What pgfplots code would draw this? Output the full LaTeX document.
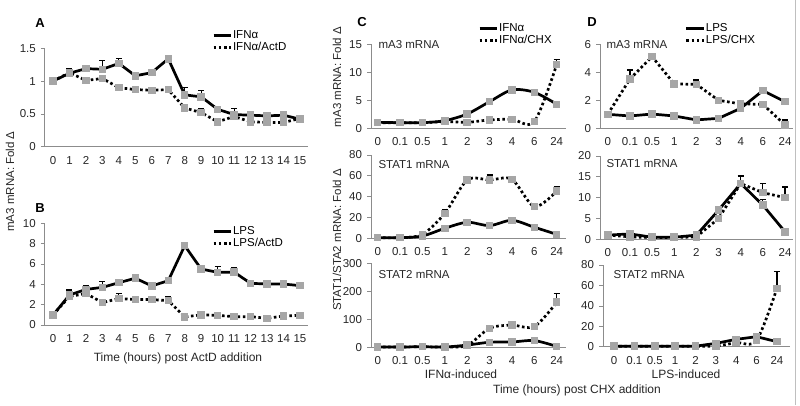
\documentclass[border=0pt]{standalone}
\usepackage{pgfplots}
\pgfplotsset{compat=1.18}
\usepackage{fontspec}
\setmainfont{Liberation Sans}
\newcommand\fs{\fontsize{11.5}{12}\selectfont}
\newcommand\fl{\fontsize{12}{13}\selectfont}

\pgfplotsset{
  fig/.style={
    scale only axis, anchor=south west, clip=false,
    axis x line*=bottom, axis y line*=left,
    axis line style={black!45, line width=0.7pt},
    tick style={black!45, line width=0.7pt},
    tick align=outside, major tick length=4pt, minor tick length=4pt,
    xtick style={draw=none},
    minor x tick style={black!45, line width=0.7pt},
    ticklabel style={font=\fs, text=black!85},
    /pgf/number format/assume math mode=true,
    yticklabel style={xshift=-1.5pt},
    xticklabel style={yshift=-2pt},
    ymin=0,
    legend style={draw=none, fill=none, inner sep=0pt, font=\fs, anchor=west,
      nodes={inner sep=1pt, text height=8pt, text depth=2pt}},
    legend cell align=left,
  },
  cat/.style={xtick={0,...,8}, xticklabels={0,0.1,0.5,1,2,3,4,6,24},
    minor xtick={0.5,1.5,...,7.5}},
  sol/.style={black, line width=2.7pt, mark=square*, mark size=2.4pt,
    mark options={fill=black!35, draw=black!35, solid}},
  dot/.style={black, line width=2.7pt, dash pattern=on 2.6pt off 2.6pt,
    mark=square*, mark size=2.4pt, mark options={fill=black!35, draw=black!35, solid}},
  eb/.style={/pgfplots/error bars/y dir=plus, /pgfplots/error bars/y explicit,
    /pgfplots/error bars/error mark options={rotate=90, black, line width=1.4pt, mark size=3pt, solid},
    /pgfplots/error bars/error bar style={black, line width=1.2pt, solid}},
}

\begin{document}
\begin{tikzpicture}
\path[use as bounding box] (0pt,0pt) rectangle (800pt,405pt);

% ---------- A ----------
\begin{axis}[fig, at={(44.8pt,258.3pt)}, width=263.4pt, height=98.4pt,
  xmin=-0.5, xmax=15.5, ymax=1.5, xtick={0,...,15}, minor xtick={-0.5,0.5,...,15.5},
  ytick={0,0.5,1,1.5}, legend style={at={(axis description cs:0.635,1.069)}}]
\addlegendimage{black, line width=2.7pt}
\addlegendentry{IFNα}
\addlegendimage{black, line width=2.7pt, dash pattern=on 2.6pt off 2.6pt}
\addlegendentry{IFNα/ActD}
\addplot[dot, eb, forget plot] table[x=x, y=y, y error=e] {
x y e
0 1.00 0.01
1 1.13 0.06
2 1.01 0.02
3 1.04 0.04
4 0.90 0.02
5 0.87 0.01
6 0.86 0.02
7 0.87 0.03
8 0.59 0.02
9 0.52 0.06
10 0.38 0.02
11 0.46 0.02
12 0.38 0.02
13 0.37 0.01
14 0.37 0.06
15 0.43 0.02
};
\addplot[sol, eb, forget plot] table[x=x, y=y, y error=e] {
x y e
0 1.00 0.01
1 1.12 0.07
2 1.19 0.05
3 1.18 0.13
4 1.27 0.07
5 1.08 0.01
6 1.13 0.01
7 1.34 0.02
8 0.79 0.11
9 0.76 0.10
10 0.57 0.02
11 0.49 0.09
12 0.48 0.02
13 0.47 0.01
14 0.48 0.02
15 0.42 0.02
};
\end{axis}

% ---------- B ----------
\begin{axis}[fig, at={(44.8pt,80pt)}, width=263.4pt, height=101.7pt,
  xmin=-0.5, xmax=15.5, ymax=10, xtick={0,...,15}, minor xtick={-0.5,0.5,...,15.5},
  ytick={0,2,...,10}, legend style={at={(axis description cs:0.635,0.863)}}]
\addlegendimage{black, line width=2.7pt}
\addlegendentry{LPS}
\addlegendimage{black, line width=2.7pt, dash pattern=on 2.6pt off 2.6pt}
\addlegendentry{LPS/ActD}
\addplot[dot, eb, forget plot] table[x=x, y=y, y error=e] {
x y e
0 1.0 0.05
1 2.8 0.3
2 3.1 0.1
3 2.2 0.1
4 2.6 0.5
5 2.5 0.1
6 2.5 0.1
7 2.4 0.4
8 0.8 0.1
9 1.0 0.1
10 0.95 0.1
11 0.82 0.05
12 0.82 0.05
13 0.66 0.05
14 0.88 0.05
15 0.95 0.1
};
\addplot[sol, eb, forget plot] table[x=x, y=y, y error=e] {
x y e
0 0.98 0.1
1 2.95 0.5
2 3.5 0.4
3 3.7 0.6
4 4.16 0.1
5 4.6 0.3
6 3.84 0.25
7 4.36 0.15
8 7.8 0.1
9 5.5 0.25
10 5.18 0.55
11 5.2 0.4
12 4.1 0.1
13 4.03 0.1
14 4.03 0.1
15 3.87 0.2
};
\end{axis}

% ---------- C ----------
\begin{axis}[fig, cat, at={(371pt,276.7pt)}, width=194.7pt, height=84pt,
  xmin=-0.3, xmax=8.4, ymax=15, ytick={0,5,10,15},
  legend style={at={(axis description cs:0.55,1.117)}}]
\addlegendimage{black, line width=2.7pt}
\addlegendentry{IFNα}
\addlegendimage{black, line width=2.7pt, dash pattern=on 2.6pt off 2.6pt}
\addlegendentry{IFNα/CHX}
\addplot[dot, eb, smooth, forget plot] table[x=x, y=y, y error=e] {
x y e
0 1.0 0
1 1.0 0
2 1.0 0
3 1.2 0
4 1.07 0
5 1.5 0
6 1.6 0
7 1.2 0
8 11.4 0.9
};
\addplot[sol, eb, smooth, forget plot] table[x=x, y=y, y error=e] {
x y e
0 1.07 0
1 1.0 0
2 1.0 0
3 1.37 0
4 2.56 0
5 4.76 0
6 6.85 0
7 6.43 0
8 4.29 0.5
};
\end{axis}

\begin{axis}[fig, cat, at={(371pt,166.7pt)}, width=194.7pt, height=83.3pt,
  xmin=-0.3, xmax=8.4, ymax=80, ytick={0,20,...,80}]
\addplot[dot, eb, smooth] table[x=x, y=y, y error=e] {
x y e
0 0.6 0
1 0.6 0
2 3.8 0
3 24 3
4 56 1
5 56 4.8
6 56.6 2
7 30.4 3.2
8 45.4 4.2
};
\addplot[sol, eb, smooth] table[x=x, y=y, y error=e] {
x y e
0 0.6 0
1 0.6 0
2 2.2 0
3 9.6 0
4 15.4 0
5 12.2 0
6 17.3 0
7 10.6 0
8 3.8 0
};
\end{axis}

\begin{axis}[fig, cat, at={(371pt,57.7pt)}, width=194.7pt, height=84pt,
  xmin=-0.3, xmax=8.4, ymax=300, ytick={0,100,...,300}]
\addplot[dot, eb, smooth] table[x=x, y=y, y error=e] {
x y e
0 1 0
1 1 0
2 2 0
3 1 0
4 7 0
5 68 8
6 79 3
7 74 8
8 161 32
};
\addplot[sol, eb, smooth] table[x=x, y=y, y error=e] {
x y e
0 1 0
1 1 0
2 2 0
3 1 0
4 8 0
5 18 0
6 19 0
7 24 0
8 3 0
};
\end{axis}

% ---------- D ----------
\begin{axis}[fig, cat, at={(600pt,276.7pt)}, width=193pt, height=84pt,
  xmin=-0.35, xmax=8.36, ymax=6, ytick={0,2,...,6},
  legend style={at={(axis description cs:0.44,1.117)}}]
\addlegendimage{black, line width=2.7pt}
\addlegendentry{LPS}
\addlegendimage{black, line width=2.7pt, dash pattern=on 2.6pt off 2.6pt}
\addlegendentry{LPS/CHX}
\addplot[dot, eb, forget plot] table[x=x, y=y, y error=e] {
x y e
0 1.0 0
1 3.52 0.65
2 5.12 0.24
3 3.17 0.1
4 3.14 0.31
5 2.0 0.05
6 1.74 0.09
7 1.71 0.05
8 0.24 0.36
};
\addplot[sol, eb, forget plot] table[x=x, y=y, y error=e] {
x y e
0 1.0 0
1 0.88 0
2 1.02 0
3 0.88 0
4 0.6 0
5 0.71 0
6 1.43 0
7 2.69 0
8 1.9 0
};
\end{axis}

\begin{axis}[fig, cat, at={(600pt,165.7pt)}, width=193pt, height=83.3pt,
  xmin=-0.35, xmax=8.36, ymax=20, ytick={0,5,...,20}]
\addplot[dot, eb] table[x=x, y=y, y error=e] {
x y e
0 1.0 0
1 0.6 0
2 0.4 0
3 0.4 0
4 0.6 0
5 5.0 0
6 13.4 0
7 11.2 2.2
8 10.0 2.6
};
\addplot[sol, eb] table[x=x, y=y, y error=e] {
x y e
0 1.0 0
1 1.3 0
2 0.5 0
3 0.5 0
4 1.0 0
5 7.0 0
6 13.4 1.8
7 8.2 1.4
8 1.8 0
};
\end{axis}

\begin{axis}[fig, cat, at={(603pt,58.3pt)}, width=187pt, height=81.7pt,
  xmin=-0.54, xmax=8.64, ymax=80, ytick={0,20,...,80}]
\addplot[dot, eb, smooth] table[x=x, y=y, y error=e] {
x y e
0 0.5 0
1 0.5 0
2 0.5 0
3 0.5 0
4 0.5 0
5 0.7 0
6 3.9 0
7 6.2 0
8 57.2 16.3
};
\addplot[sol, eb] table[x=x, y=y, y error=e] {
x y e
0 0.5 0
1 0.5 0
2 0.5 0
3 0.5 0
4 0.5 0
5 3.3 0
6 7.2 0
7 9.8 0
8 4.9 2.6
};
\end{axis}

% ---------- texts ----------
\node[font=\fontsize{13}{13}\selectfont\bfseries] at (40pt,381.7pt) {A};
\node[font=\fontsize{13}{13}\selectfont\bfseries] at (40pt,196.7pt) {B};
\node[font=\fontsize{13}{13}\selectfont\bfseries] at (362pt,383.3pt) {C};
\node[font=\fontsize{13}{13}\selectfont\bfseries] at (592pt,383.3pt) {D};
\node[font=\fs, text=black!85, rotate=90] at (10pt,223.5pt) {mA3 mRNA: Fold Δ};
\node[font=\fl, text=black!85] at (178pt,47pt) {Time (hours) post ActD addition};
\node[font=\fs, text=black!85, rotate=90] at (337pt,328pt) {mA3 mRNA: Fold Δ};
\node[font=\fs, text=black!85, rotate=90] at (337pt,165pt) {STAT1/STA2 mRNA: Fold Δ};
\node[font=\fl, text=black!85] at (461pt,31pt) {IFNα-induced};
\node[font=\fl, text=black!85] at (686pt,31pt) {LPS-induced};
\node[font=\fl, text=black!85] at (577pt,14.5pt) {Time (hours) post CHX addition};
\node[font=\fs, text=black!85, anchor=west] at (375pt,360pt) {mA3 mRNA};
\node[font=\fs, text=black!85, anchor=west] at (375pt,240.7pt) {STAT1 mRNA};
\node[font=\fs, text=black!85, anchor=west] at (375pt,130pt) {STAT2 mRNA};
\node[font=\fs, text=black!85, anchor=west] at (603pt,360pt) {mA3 mRNA};
\node[font=\fs, text=black!85, anchor=west] at (603pt,241pt) {STAT1 mRNA};
\node[font=\fs, text=black!85, anchor=west] at (610pt,130pt) {STAT2 mRNA};
\draw[black!25, line width=0.8pt] (795pt,0pt) -- (795pt,405pt);
\end{tikzpicture}
\end{document}
